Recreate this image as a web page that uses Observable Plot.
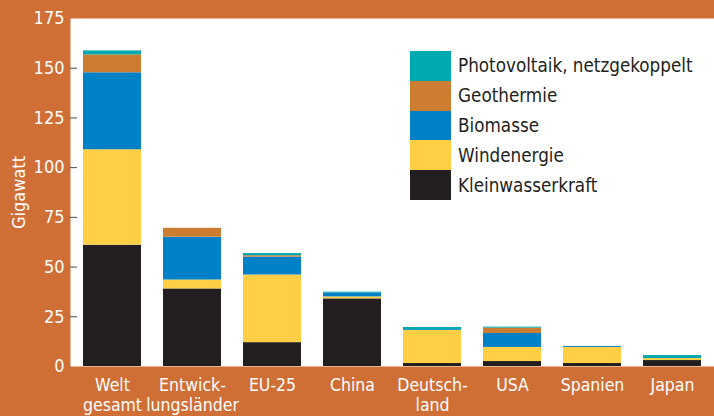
<!DOCTYPE html>
<html>
<head>
<meta charset="utf-8">
<script src="https://cdn.jsdelivr.net/npm/d3@7"></script>
<script src="https://cdn.jsdelivr.net/npm/@observablehq/plot@0.6"></script>
<style>
  html, body { margin: 0; padding: 0; background: #CF6E35; }
  #wrap { position: relative; width: 714px; height: 416px; overflow: hidden; }
  .cond { font-family: "Liberation Sans Narrow", "DejaVu Sans Condensed", "Roboto Condensed", "Arial Narrow", sans-serif; font-stretch: condensed; }
  #legend { position: absolute; left: 410px; top: 51px; }
  .row { display: flex; align-items: center; height: 29.8px; }
  .sw { width: 41px; height: 29.8px; }
  .lab { margin-left: 7px; font-size: 18.7px; color: #231F20; }
</style>
</head>
<body>
<div id="wrap" class="cond"></div>
<script>
const categories = ["Welt gesamt", "Entwicklungsländer", "EU-25", "China", "Deutschland", "USA", "Spanien", "Japan"];
const tickLabels = ["Welt\ngesamt", "Entwick-\nlungsländer", "EU-25", "China", "Deutsch-\nland", "USA", "Spanien", "Japan"];
const series = ["Kleinwasserkraft", "Windenergie", "Biomasse", "Geothermie", "Photovoltaik, netzgekoppelt"];
const colors = ["#231F20", "#FECE44", "#0080C6", "#CC7D2F", "#00A8AF"];
const kleinwasserkraft = [61, 39, 12, 34, 1.5, 2.5, 1.5, 3];
const windenergie = [48, 4.5, 34, 1, 16.6, 7.1, 8.1, 1];
const biomasse = [38.7, 21.5, 9, 2, 0.4, 7, 0.5, 0];
const geothermie = [9, 4.5, 0.7, 0, 0, 2.7, 0, 0];
const photovoltaik = [2, 0, 1.1, 0.4, 1.1, 0.5, 0, 1.5];
const yTicks = [0, 25, 50, 75, 100, 125, 150, 175];
const yTickMarks = [25, 50, 75, 100, 125, 150];

const seriesValues = [kleinwasserkraft, windenergie, biomasse, geothermie, photovoltaik];
const data = [];
series.forEach((s, si) => {
  categories.forEach((c, ci) => data.push({category: c, series: s, value: seriesValues[si][ci]}));
});
const labelOf = new Map(categories.map((c, i) => [c, tickLabels[i]]));

const font = '"Liberation Sans Narrow", "DejaVu Sans Condensed", "Roboto Condensed", sans-serif';

const chart = Plot.plot({
  width: 714,
  height: 416,
  marginLeft: 70,
  marginRight: 0,
  marginTop: 18,
  marginBottom: 50,
  style: {background: "#CF6E35", fontFamily: font, overflow: "visible"},
  x: {domain: categories, paddingInner: 0.28, paddingOuter: 0.145},
  y: {domain: [0, 175]},
  color: {domain: series, range: colors},
  marks: [
    Plot.frame({fill: "white", stroke: null}),
    Plot.barY(data, {x: "category", y: "value", fill: "series", order: series}),
    Plot.axisY({ticks: yTickMarks, tickSize: 7, dx: 7, stroke: "#4a4a4a", tickFormat: () => "", label: null}),
    Plot.axisY({ticks: yTicks, tickSize: 0, tickPadding: 6, fontSize: 18, fill: "white", color: "white",
      label: "Gigawatt", labelAnchor: "center", labelOffset: 58, labelArrow: "none"}),
    Plot.axisX({tickSize: 0, tickPadding: 10, fontSize: 17.5, fill: "white", color: "white", lineHeight: 1.15,
      tickFormat: d => labelOf.get(d), label: null})
  ]
});
document.getElementById("wrap").appendChild(chart);

const legend = document.createElement("div");
legend.id = "legend";
[...series].reverse().forEach((s) => {
  const i = series.indexOf(s);
  const row = document.createElement("div");
  row.className = "row";
  const sw = document.createElement("div");
  sw.className = "sw";
  sw.style.background = colors[i];
  const lab = document.createElement("span");
  lab.className = "lab";
  lab.textContent = s;
  row.appendChild(sw);
  row.appendChild(lab);
  legend.appendChild(row);
});
document.getElementById("wrap").appendChild(legend);
</script>
</body>
</html>
